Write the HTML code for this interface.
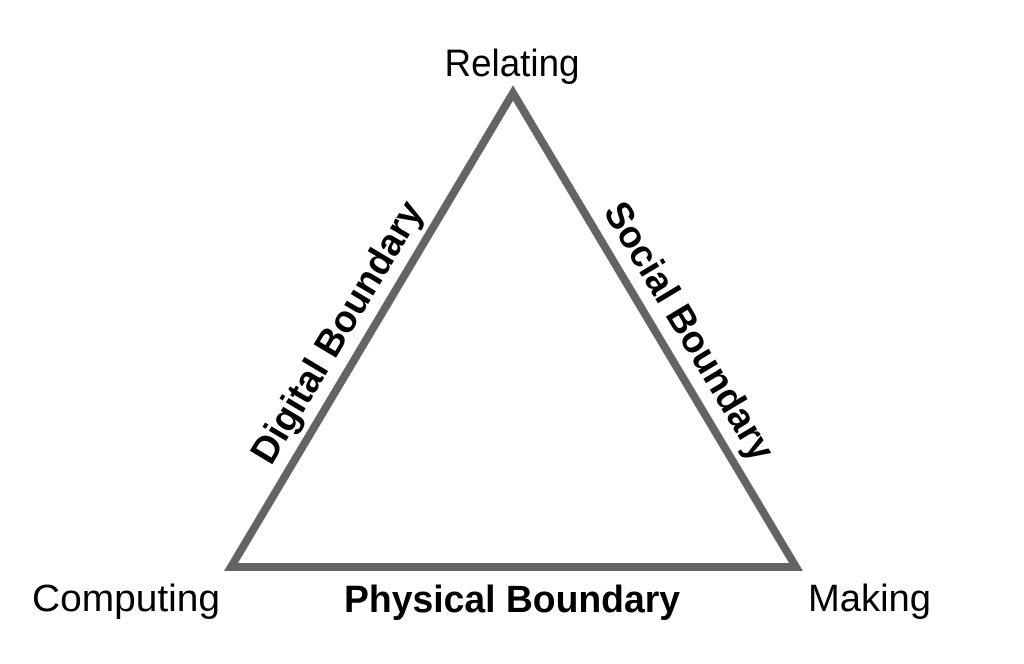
<!DOCTYPE html>
<html>
<head>
<meta charset="utf-8">
<style>
  html, body { margin: 0; padding: 0; background: #ffffff; }
  body { width: 1024px; height: 664px; overflow: hidden; }
  svg { display: block; }
  text { font-family: "Liberation Sans", Arial, Helvetica, sans-serif; fill: #000; }
</style>
</head>
<body>
<svg width="1024" height="664" viewBox="0 0 1024 664" xmlns="http://www.w3.org/2000/svg">
  <polygon points="513,93 231,567 796,567" fill="none" stroke="#646464" stroke-width="8" stroke-linejoin="miter" stroke-miterlimit="10"/>

  <text x="512" y="76" font-size="38" text-anchor="middle" textLength="135" lengthAdjust="spacingAndGlyphs">Relating</text>
  <text x="32" y="611" font-size="38" textLength="188" lengthAdjust="spacingAndGlyphs">Computing</text>
  <text x="808" y="611" font-size="38" textLength="123" lengthAdjust="spacingAndGlyphs">Making</text>

  <text x="512" y="612" font-size="38" font-weight="bold" text-anchor="middle" textLength="336" lengthAdjust="spacingAndGlyphs">Physical Boundary</text>

  <text transform="translate(347.5,338.5) rotate(-59.1)" font-size="38" font-weight="bold" text-anchor="middle" textLength="298" lengthAdjust="spacingAndGlyphs">Digital Boundary</text>

  <text transform="translate(678.5,337.5) rotate(59)" font-size="38" font-weight="bold" text-anchor="middle" textLength="294" lengthAdjust="spacingAndGlyphs">Social Boundary</text>
</svg>
</body>
</html>
